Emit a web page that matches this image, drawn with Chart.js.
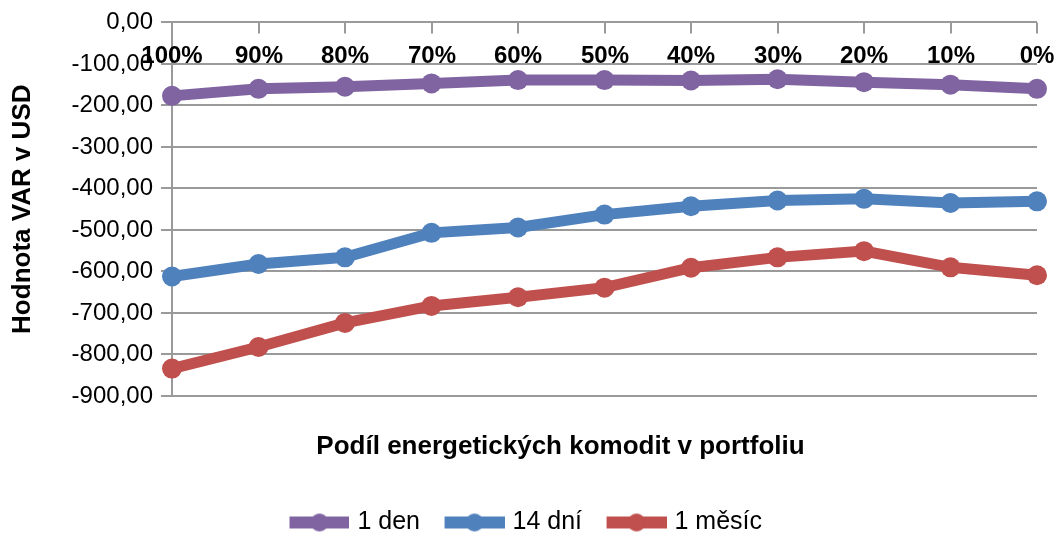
<!DOCTYPE html>
<html>
<head>
<meta charset="utf-8">
<script src="https://cdn.jsdelivr.net/npm/chart.js@4"></script>
<style>
    html, body { margin: 0; padding: 0; background: #fff; }
    #wrap { width: 1061px; height: 538px; position: relative; }
</style>
</head>
<body>
<div id="wrap"><canvas id="chart"></canvas></div>
<script>
const categories = ['100%', '90%', '80%', '70%', '60%', '50%', '40%', '30%', '20%', '10%', '0%'];
const oneDay = [-177, -160, -155, -147, -139, -139, -140, -137, -144, -150, -160];
const fourteenDays = [-612, -582, -566, -507, -494, -463, -443, -429, -425, -435, -431];
const oneMonth = [-834, -782, -724, -683, -662, -639, -591, -566, -551, -590, -609];
const seriesNames = ['1 den', '14 dní', '1 měsíc'];
const seriesColors = ['#8064A2', '#4F81BD', '#C0504D'];
const xTitle = 'Podíl energetických komodit v portfoliu';
const yTitle = 'Hodnota VAR v USD';

const FONT = "'Liberation Sans', Arial, sans-serif";
const GRID = '#9a9a9a';

const czNumber = (value) => Number(value).toFixed(2).replace('.', ',');

// legend swatch: thick line with a marker in the middle
const swatch = (color) => {
    const c = document.createElement('canvas');
    c.width = 79;
    c.height = 22;
    const ctx = c.getContext('2d');
    ctx.fillStyle = color;
    ctx.fillRect(19, 5, 60, 12);
    ctx.beginPath();
    ctx.arc(49, 11, 9, 0, Math.PI * 2);
    ctx.fill();
    return c;
};

// category labels and tick marks sit just under the top (zero) line,
// the axis title sits a bit right of the plot centre like in the original
const topCategoryAxis = {
    id: 'topCategoryAxis',
    afterDraw(chart) {
        const { ctx, chartArea } = chart;
        const x = chart.scales.x;
        ctx.save();
        ctx.strokeStyle = GRID;
        ctx.lineWidth = 2;
        ctx.font = `bold 24px ${FONT}`;
        ctx.fillStyle = '#000';
        ctx.textAlign = 'center';
        ctx.textBaseline = 'middle';
        categories.forEach((label, i) => {
            const px = Math.round(x.getPixelForValue(i));
            ctx.beginPath();
            ctx.moveTo(px, chartArea.top);
            ctx.lineTo(px, chartArea.top + 11);
            ctx.stroke();
            ctx.fillText(label, px, chartArea.top + 34);
        });
        ctx.font = `bold 26px ${FONT}`;
        ctx.fillText(xTitle, chart.width / 2 + 30, chartArea.bottom + 51);
        ctx.restore();
    },
};

const makeSet = (label, data, color) => ({
    label,
    data,
    borderColor: color,
    backgroundColor: color,
    borderWidth: 11,
    pointRadius: 10,
    pointHoverRadius: 10,
    pointBorderWidth: 0,
    pointBackgroundColor: color,
    tension: 0,
});

new Chart(document.getElementById('chart'), {
    type: 'line',
    data: {
        labels: categories,
        datasets: [
            makeSet(seriesNames[0], oneDay, seriesColors[0]),
            makeSet(seriesNames[1], fourteenDays, seriesColors[1]),
            makeSet(seriesNames[2], oneMonth, seriesColors[2]),
        ],
    },
    options: {
        responsive: true,
        maintainAspectRatio: false,
        animation: false,
        layout: { padding: { top: 21, right: 24, bottom: -7, left: 0 } },
        plugins: {
            tooltip: { enabled: false },
            legend: {
                position: 'bottom',
                labels: {
                    font: { family: FONT, size: 25 },
                    color: '#000',
                    padding: 10,
                    usePointStyle: true,
                    pointStyleWidth: 70,
                    generateLabels: (chart) => chart.data.datasets.map((ds, i) => ({
                        text: ds.label,
                        pointStyle: swatch(seriesColors[i]),
                        datasetIndex: i,
                        fillStyle: seriesColors[i],
                        strokeStyle: seriesColors[i],
                        lineWidth: 0,
                        hidden: false,
                    })),
                },
            },
        },
        scales: {
            x: {
                position: 'bottom',
                offset: false,
                grid: { display: false },
                border: { display: false },
                ticks: { display: false },
                afterFit: (scale) => { scale.height = 104; },
            },
            y: {
                min: -900,
                max: 0,
                ticks: {
                    stepSize: 100,
                    font: { family: FONT, size: 24 },
                    color: '#000',
                    padding: 8,
                    callback: (value) => czNumber(value),
                },
                grid: { color: GRID, lineWidth: 2, tickLength: 11, drawTicks: true },
                border: { display: true, color: GRID, width: 2 },
                title: {
                    display: true,
                    text: yTitle,
                    font: { family: FONT, size: 26, weight: 'bold' },
                    color: '#000',
                    padding: { top: 7, bottom: 0 },
                },
                afterFit: (scale) => { scale.width = 172; },
            },
        },
    },
    plugins: [topCategoryAxis],
});
</script>
</body>
</html>
